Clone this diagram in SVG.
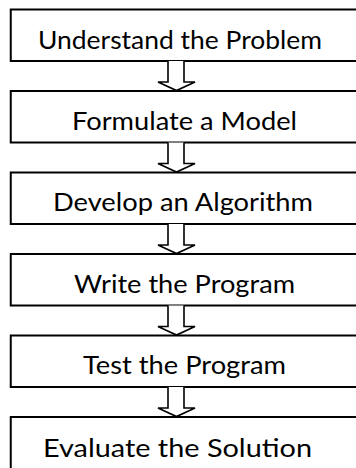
<svg xmlns="http://www.w3.org/2000/svg" width="356" height="468" viewBox="0 0 356 468">
  <style>
    .box { fill: #ffffff; stroke: #000000; stroke-width: 2; }
    .label { font-family: Lato, "Open Sans", "Liberation Sans", sans-serif; font-size: 25px; fill: #000000; }
    .arrow { fill: #ffffff; stroke: #000000; stroke-width: 1.6; stroke-linejoin: miter; }
  </style>
  <rect x="0" y="0" width="356" height="468" fill="#ffffff"/>

  <!-- process steps; boxes run past the right edge -->
  <g id="step-understand">
    <rect class="box" x="10.75" y="9.5" width="360" height="51.5"/>
    <text class="label" x="38" y="48.5" textLength="284" lengthAdjust="spacingAndGlyphs">Understand the Problem</text>
  </g>
  <g id="step-model">
    <rect class="box" x="10.75" y="91" width="360" height="51.5"/>
    <text class="label" x="72" y="129.7" textLength="225" lengthAdjust="spacingAndGlyphs">Formulate a Model</text>
  </g>
  <g id="step-algorithm">
    <rect class="box" x="10.75" y="172.5" width="360" height="51.5"/>
    <text class="label" x="53" y="211.2" textLength="260" lengthAdjust="spacingAndGlyphs">Develop an Algorithm</text>
  </g>
  <g id="step-program">
    <rect class="box" x="10.75" y="254" width="360" height="51.5"/>
    <text class="label" x="74" y="292.7" textLength="221" lengthAdjust="spacingAndGlyphs">Write the Program</text>
  </g>
  <g id="step-test">
    <rect class="box" x="10.75" y="335.5" width="360" height="51.5"/>
    <text class="label" x="83" y="374.2" textLength="203" lengthAdjust="spacingAndGlyphs">Test the Program</text>
  </g>
  <g id="step-evaluate">
    <rect class="box" x="10.75" y="417" width="360" height="60"/>
    <text class="label" x="43" y="457" textLength="269" lengthAdjust="spacingAndGlyphs">Evaluate the Solution</text>
  </g>

  <!-- hollow block arrows between steps -->
  <g id="connectors">
    <path class="arrow" d="M168,61 V82 H158 L176.5,90.5 L195,82 H184 V61"/>
    <path class="arrow" d="M168,142.5 V163.5 H158 L176.5,172 L195,163.5 H184 V142.5"/>
    <path class="arrow" d="M168,224 V245 H158 L176.5,253.5 L195,245 H184 V224"/>
    <path class="arrow" d="M168,305.5 V326.5 H158 L176.5,335 L195,326.5 H184 V305.5"/>
    <path class="arrow" d="M168,387 V408 H158 L176.5,416.5 L195,408 H184 V387"/>
  </g>
</svg>
